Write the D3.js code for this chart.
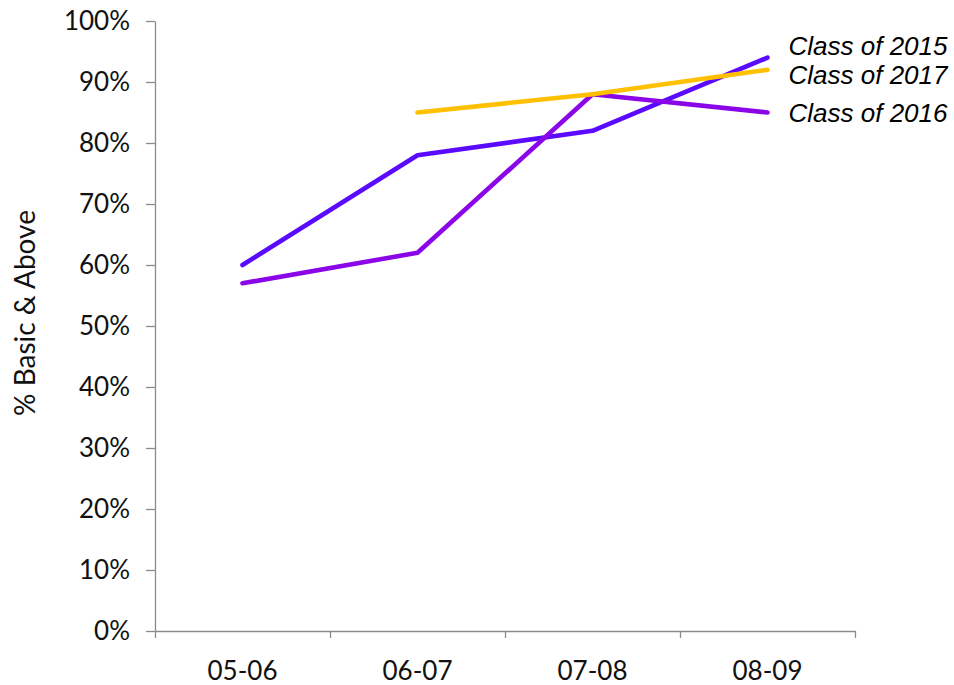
<!DOCTYPE html>
<html>
<head>
<meta charset="utf-8">
<script src="https://cdn.jsdelivr.net/npm/d3@7"></script>
<style>
  body { margin: 0; background: #fff; }
  svg text { font-family: Lato, "DejaVu Sans", sans-serif; }
</style>
</head>
<body>
<script>
// school years on the x axis
const years = ["05-06", "06-07", "07-08", "08-09"];
// percent basic & above, null where the class had no score
const class2015 = [60, 78, 82, 94];
const class2016 = [57, 62, 88, 85];
const class2017 = [null, 85, 88, 92];
const seriesNames = ["Class of 2015", "Class of 2016", "Class of 2017"];
const yTicks = [0, 10, 20, 30, 40, 50, 60, 70, 80, 90, 100];

const width = 954, height = 685;
const marginTop = 21, marginRight = 99, marginBottom = 54, marginLeft = 155;

const colors = ["#5a0aff", "#8a06e8", "#ffc000"];
// small vertical shifts so the end labels don't collide
const labelShift = [-3, 9, 14];

const svg = d3.select("body").append("svg")
    .attr("width", width)
    .attr("height", height);

const x = d3.scaleBand()
    .domain(years)
    .range([marginLeft, width - marginRight]);

const y = d3.scaleLinear()
    .domain([0, 100])
    .range([height - marginBottom, marginTop]);

// y axis
const yAxis = svg.append("g")
    .attr("transform", `translate(${marginLeft},0)`)
    .call(d3.axisLeft(y).tickValues(yTicks).tickSize(9).tickSizeOuter(0).tickPadding(16)
        .tickFormat(d => d + "%"));
yAxis.selectAll("path, line").attr("stroke", "#8c8c8c").attr("stroke-width", 1.3);
yAxis.selectAll("text").attr("font-size", 26).attr("fill", "#111");

// x axis: band boundaries get the tick marks
const edges = d3.scaleLinear().domain([0, years.length]).range(x.range());
const xTicks = svg.append("g")
    .attr("transform", `translate(0,${height - marginBottom})`)
    .call(d3.axisBottom(edges).tickValues(d3.range(years.length + 1)).tickSize(7).tickSizeOuter(0).tickFormat(""));
xTicks.selectAll("path, line").attr("stroke", "#8c8c8c").attr("stroke-width", 1.3);

const xLabels = svg.append("g")
    .attr("transform", `translate(0,${height - marginBottom})`)
    .call(d3.axisBottom(x).tickSize(0).tickPadding(31));
xLabels.select(".domain").remove();
xLabels.selectAll("text").attr("font-size", 26).attr("fill", "#111");

// y axis title
svg.append("text")
    .attr("transform", `translate(35,313) rotate(-90)`)
    .attr("text-anchor", "middle")
    .attr("font-size", 28)
    .attr("fill", "#111")
    .text("% Basic & Above");

const series = [class2015, class2016, class2017];

const line = d3.line()
    .defined(d => d != null)
    .x((d, i) => x(years[i]) + x.bandwidth() / 2)
    .y(d => y(d));

svg.selectAll(".series")
    .data(series)
    .join("path")
    .attr("class", "series")
    .attr("fill", "none")
    .attr("stroke", (d, i) => colors[i])
    .attr("stroke-width", 4.6)
    .attr("stroke-linecap", "round")
    .attr("stroke-linejoin", "round")
    .attr("d", line);

// end labels
svg.selectAll(".endlabel")
    .data(series)
    .join("text")
    .attr("class", "endlabel")
    .attr("x", x(years[years.length - 1]) + x.bandwidth() / 2 + 21)
    .attr("y", (d, i) => y(d[d.length - 1]) + labelShift[i])
    .attr("font-style", "italic")
    .attr("font-size", 26)
    .attr("fill", "#000")
    .style("font-family", "'Liberation Sans', Arial, sans-serif")
    .text((d, i) => seriesNames[i]);
</script>
</body>
</html>
